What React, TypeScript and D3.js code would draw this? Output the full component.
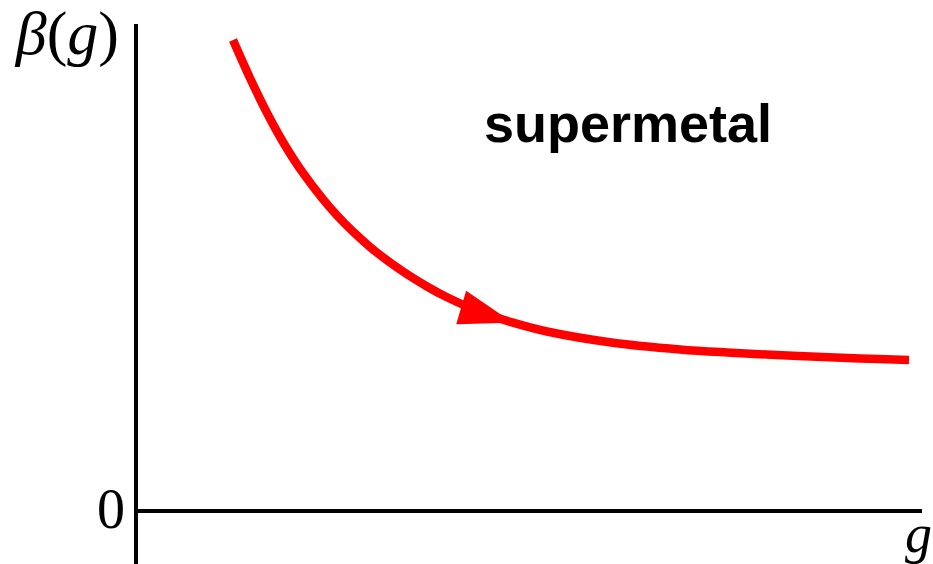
import React, { useEffect, useRef } from "react";
import * as d3 from "d3";

// Coupling values g and the beta function beta(g) along the flow curve
const gValues = [0.1234, 0.1450, 0.1641, 0.1870, 0.2125, 0.2557, 0.2977, 0.3397, 0.3702, 0.3957, 0.4377, 0.4796, 0.5229, 0.6069, 0.6921, 0.7519, 0.8359, 0.9211, 0.9835];
const betaValues = [0.9671, 0.8891, 0.8255, 0.7577, 0.6940, 0.6068, 0.5423, 0.4916, 0.4610, 0.4388, 0.4090, 0.3867, 0.3686, 0.3456, 0.3318, 0.3255, 0.3187, 0.3131, 0.3101];

// Where the flow arrow tip sits along the curve (index into the arrays above)
const arrowIndex = 11;

const regionLabel = "supermetal";
const zeroLabel = "0";

const W = 933;
const H = 564;

export default function App() {
  const ref = useRef<SVGSVGElement>(null);

  useEffect(() => {
    const svg = d3.select(ref.current);
    svg.selectAll("*").remove();

    const x = d3.scaleLinear().domain([0, 1]).range([136, 922]);
    const y = d3.scaleLinear().domain([0, 1]).range([511, 24]);

    const data = gValues.map((g, i) => ({ g, b: betaValues[i] }));

    // Axes
    svg.append("line")
      .attr("x1", x(0)).attr("x2", x(0))
      .attr("y1", y(1)).attr("y2", H)
      .attr("stroke", "#000").attr("stroke-width", 4);
    svg.append("line")
      .attr("x1", x(0)).attr("x2", x(1))
      .attr("y1", y(0)).attr("y2", y(0))
      .attr("stroke", "#000").attr("stroke-width", 4);

    // Flow curve
    const line = d3.line<{ g: number; b: number }>()
      .x((d) => x(d.g))
      .y((d) => y(d.b))
      .curve(d3.curveCatmullRom.alpha(0.5));

    svg.append("path")
      .datum(data)
      .attr("d", line)
      .attr("fill", "none")
      .attr("stroke", "#ff0000")
      .attr("stroke-width", 8.5);

    // Arrow head pointing along the flow
    const p = data[arrowIndex];
    const p0 = data[arrowIndex - 1];
    const p1 = data[arrowIndex + 1];
    const tipX = x(p.g);
    const tipY = y(p.b);
    const ang = Math.atan2(y(p1.b) - y(p0.b), x(p1.g) - x(p0.g));
    const len = 54;
    const half = 17.5;
    const bx = tipX - len * Math.cos(ang);
    const by = tipY - len * Math.sin(ang);
    const nx = -Math.sin(ang);
    const ny = Math.cos(ang);
    svg.append("path")
      .attr("d", `M${tipX},${tipY} L${bx + half * nx},${by + half * ny} L${bx - half * nx},${by - half * ny} Z`)
      .attr("fill", "#ff0000");

    // Labels
    const serif = "'Liberation Serif', 'DejaVu Serif', serif";
    const yLab = svg.append("text")
      .attr("x", 119).attr("y", 54)
      .attr("text-anchor", "end")
      .attr("font-family", serif)
      .attr("font-size", 62)
      .attr("fill", "#000");
    yLab.append("tspan").attr("font-style", "italic").text("β");
    yLab.append("tspan").text("(");
    yLab.append("tspan").attr("font-style", "italic").text("g");
    yLab.append("tspan").text(")");

    svg.append("text")
      .attr("x", 125).attr("y", 528)
      .attr("text-anchor", "end")
      .attr("font-family", serif)
      .attr("font-size", 56)
      .attr("fill", "#000")
      .text(zeroLabel);

    svg.append("text")
      .attr("x", 932).attr("y", 552)
      .attr("text-anchor", "end")
      .attr("font-family", serif)
      .attr("font-style", "italic")
      .attr("font-size", 54)
      .attr("fill", "#000")
      .text("g");

    svg.append("text")
      .attr("x", 484).attr("y", 142)
      .attr("font-family", "'Liberation Sans', Arial, sans-serif")
      .attr("font-weight", "bold")
      .attr("font-size", 54)
      .attr("fill", "#000")
      .text(regionLabel);
  }, []);

  return (
    <svg
      ref={ref}
      width={W}
      height={H}
      style={{ position: "fixed", left: 0, top: 0, background: "#fff" }}
    />
  );
}
